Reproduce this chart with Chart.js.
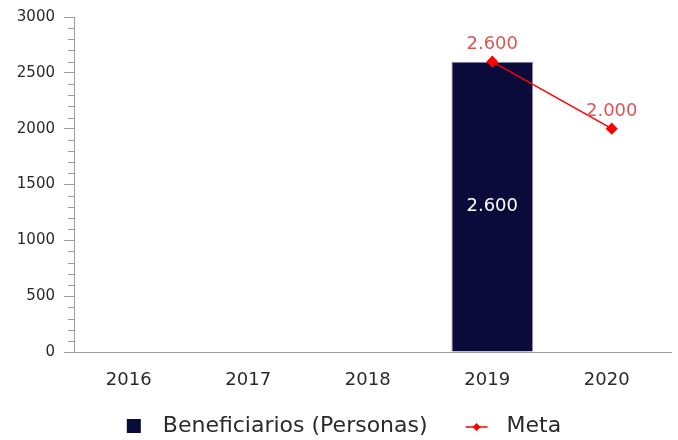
<!DOCTYPE html>
<html>
<head>
<meta charset="utf-8">
<style>
  html, body { margin: 0; background: #fff; overflow: hidden; }
  #chart { display: block; }
</style>
<script src="https://cdn.jsdelivr.net/npm/chart.js@4.4.0/dist/chart.umd.min.js"></script>
</head>
<body>
<canvas id="chart" width="678" height="440"></canvas>
<script>
// data
const years = ['2016', '2017', '2018', '2019', '2020'];
const beneficiarios = [null, null, null, 2600, null];
const meta = [null, null, null, 2600, 2000];
const yTicks = [0, 500, 1000, 1500, 2000, 2500, 3000];
const yMinorStep = 100;

const BAR_COLOR = '#0b0b3b';
const LINE_COLOR = '#ff0000';
const LABEL_RED = '#d95757';
const AXIS_COLOR = '#9a9a9a';
const TEXT_COLOR = '#2a2a2a';
const FONT = '"DejaVu Sans", Verdana, sans-serif';

function fmt(v) {
  return String(v).replace(/\B(?=(\d{3})+(?!\d))/g, '.');
}

// short ticks every 100 on the y axis
const minorTicks = {
  id: 'minorTicks',
  afterDraw(chart) {
    const y = chart.scales.y;
    const ctx = chart.ctx;
    ctx.save();
    ctx.strokeStyle = AXIS_COLOR;
    ctx.lineWidth = 1;
    for (let v = y.min; v <= y.max; v += yMinorStep) {
      if (yTicks.includes(v)) continue;
      const py = Math.round(y.getPixelForValue(v)) + 0.5;
      ctx.beginPath();
      ctx.moveTo(y.right - 6, py);
      ctx.lineTo(y.right, py);
      ctx.stroke();
    }
    ctx.restore();
  }
};

// value labels
const valueLabels = {
  id: 'valueLabels',
  afterDatasetsDraw(chart) {
    const ctx = chart.ctx;
    ctx.save();
    ctx.font = '18px ' + FONT;
    ctx.textAlign = 'center';
    ctx.textBaseline = 'middle';
    chart.data.datasets.forEach((ds, i) => {
      const m = chart.getDatasetMeta(i);
      m.data.forEach((el, j) => {
        const v = ds.data[j];
        if (v == null) return;
        if (ds.type === 'bar') {
          ctx.fillStyle = '#ffffff';
          ctx.fillText(fmt(v), el.x, (el.y + el.base) / 2);
        } else {
          ctx.fillStyle = LABEL_RED;
          ctx.fillText(fmt(v), el.x, el.y - 17);
        }
      });
    });
    ctx.restore();
  }
};

// legend drawn at the bottom
const bottomLegend = {
  id: 'bottomLegend',
  afterDraw(chart) {
    const ctx = chart.ctx;
    const ds = chart.data.datasets;
    ctx.save();
    ctx.font = '22px ' + FONT;
    ctx.textBaseline = 'middle';
    const w1 = ctx.measureText(ds[0].label).width;
    const w2 = ctx.measureText(ds[1].label).width;
    const total = 14 + 22 + w1 + 38 + 22 + 19 + w2;
    let x = (chart.width - total) / 2 + 5;
    const cy = 426;
    ctx.fillStyle = BAR_COLOR;
    ctx.fillRect(x, cy - 7, 14, 14);
    x += 14 + 22;
    ctx.fillStyle = TEXT_COLOR;
    ctx.fillText(ds[0].label, x, cy);
    x += w1 + 38;
    ctx.strokeStyle = LINE_COLOR;
    ctx.lineWidth = 1.5;
    ctx.beginPath();
    ctx.moveTo(x, cy + 1);
    ctx.lineTo(x + 22, cy + 1);
    ctx.stroke();
    ctx.fillStyle = LINE_COLOR;
    ctx.beginPath();
    ctx.moveTo(x + 11, cy + 1 - 4);
    ctx.lineTo(x + 15, cy + 1);
    ctx.lineTo(x + 11, cy + 1 + 4);
    ctx.lineTo(x + 7, cy + 1);
    ctx.closePath();
    ctx.fill();
    x += 22 + 19;
    ctx.fillStyle = TEXT_COLOR;
    ctx.fillText(ds[1].label, x, cy);
    ctx.restore();
  }
};

new Chart(document.getElementById('chart'), {
  data: {
    labels: years,
    datasets: [
      {
        type: 'bar',
        label: 'Beneficiarios (Personas)',
        data: beneficiarios,
        backgroundColor: BAR_COLOR,
        borderColor: '#8c8ca8',
        borderWidth: 1,
        barPercentage: 0.683,
        categoryPercentage: 1,
        order: 2
      },
      {
        type: 'line',
        label: 'Meta',
        data: meta,
        borderColor: LINE_COLOR,
        backgroundColor: LINE_COLOR,
        borderWidth: 1.5,
        pointStyle: 'rectRot',
        pointRadius: 5,
        pointBackgroundColor: LINE_COLOR,
        pointBorderColor: LINE_COLOR,
        tension: 0,
        fill: false,
        order: 1
      }
    ]
  },
  options: {
    responsive: false,
    animation: false,
    layout: { padding: { top: 17, right: 4, bottom: 40, left: 0 } },
    plugins: {
      legend: { display: false },
      tooltip: { enabled: false }
    },
    scales: {
      x: {
        grid: { display: false, drawTicks: false },
        border: { color: AXIS_COLOR, width: 1 },
        ticks: {
          color: TEXT_COLOR,
          font: { family: FONT, size: 18 },
          padding: 18,
          labelOffset: -5,
          maxRotation: 0
        },
        afterFit(s) {
          s.height = 48;
          s.paddingLeft = 0;
          s.paddingRight = 0;
        }
      },
      y: {
        min: 0,
        max: 3000,
        afterBuildTicks(s) { s.ticks = yTicks.map(v => ({ value: v })); },
        grid: {
          drawOnChartArea: false,
          tickLength: 10,
          color: AXIS_COLOR
        },
        border: { color: AXIS_COLOR, width: 1 },
        ticks: {
          color: TEXT_COLOR,
          font: { family: FONT, size: 15 },
          padding: 9,
          callback: v => String(v)
        },
        afterFit(s) {
          s.width = 74;
          s.paddingTop = 0;
          s.paddingBottom = 0;
        }
      }
    }
  },
  plugins: [minorTicks, valueLabels, bottomLegend]
});
</script>
</body>
</html>
